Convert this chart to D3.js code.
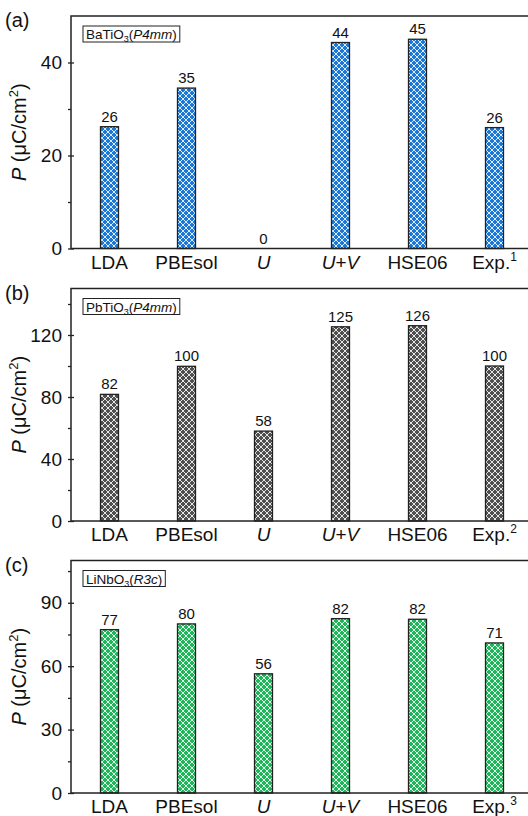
<!DOCTYPE html>
<html>
<head>
<meta charset="utf-8">
<script src="https://cdn.jsdelivr.net/npm/d3@7"></script>
<style>
  html, body { margin: 0; padding: 0; background: #fff; }
  svg { display: block; font-family: Arial, "Liberation Sans", sans-serif; }
</style>
</head>
<body>
<svg id="chart" width="528" height="816"></svg>
<script>
// ---- data ----
const categories = ["LDA", "PBEsol", "U", "U+V", "HSE06", "Exp."];
const expRefs = ["1", "2", "3"];
const panelLetters = ["(a)", "(b)", "(c)"];
const materials = ["BaTiO", "PbTiO", "LiNbO"];
const spaceGroups = ["P4mm", "P4mm", "R3c"];
const valuesBaTiO3 = [26.2, 34.5, 0, 44.3, 45.0, 26.0];
const valuesPbTiO3 = [81.7, 99.8, 58.0, 125.3, 126.0, 100.0];
const valuesLiNbO3 = [77.3, 80.0, 56.4, 82.5, 82.2, 71.0];
const labelsBaTiO3 = ["26", "35", "0", "44", "45", "26"];
const labelsPbTiO3 = ["82", "100", "58", "125", "126", "100"];
const labelsLiNbO3 = ["77", "80", "56", "82", "82", "71"];
const yMax = [50, 150, 110];
const yMajorTicks = [[0, 20, 40], [0, 40, 80, 120], [0, 30, 60, 90]];
const yMinorTicks = [[10, 30, 50], [20, 60, 100, 140], [15, 45, 75, 105]];
const colors = ["#1b78d6", "#4f4f4f", "#1fb55a"];

const panelValues = [valuesBaTiO3, valuesPbTiO3, valuesLiNbO3];
const panelLabels = [labelsBaTiO3, labelsPbTiO3, labelsLiNbO3];

// ---- layout ----
const svg = d3.select("#chart");
const left = 71, right = 533;
const tops = [16, 288.5, 560.5];
const ph = 232.5;
const barW = 18;

const x = d3.scalePoint().domain(categories).range([left, right]).padding(0.5);

const defs = svg.append("defs");
colors.forEach((c, i) => {
  const p = defs.append("pattern")
    .attr("id", "hatch" + i)
    .attr("patternUnits", "userSpaceOnUse")
    .attr("width", 6).attr("height", 6);
  p.append("rect").attr("width", 6).attr("height", 6).attr("fill", c);
  p.append("path")
    .attr("d", "M0,0L6,6M6,0L0,6M-1,5L1,7M5,-1L7,1M-1,1L1,-1M5,7L7,5")
    .attr("stroke", "#ffffff").attr("stroke-opacity", 0.85)
    .attr("stroke-width", 1).attr("fill", "none");
});

panelValues.forEach((vals, i) => {
  const top = tops[i];
  const bottom = top + ph;
  const y = d3.scaleLinear().domain([0, yMax[i]]).range([bottom, top]);
  const g = svg.append("g");

  // bars
  g.selectAll("rect.bar").data(vals).join("rect")
    .attr("class", "bar")
    .attr("x", (d, j) => x(categories[j]) - barW / 2)
    .attr("y", d => y(d))
    .attr("width", barW)
    .attr("height", d => y(0) - y(d))
    .attr("fill", `url(#hatch${i})`)
    .attr("stroke", d => d > 0 ? "#222" : "none")
    .attr("stroke-width", 1.3);

  // value labels
  g.selectAll("text.val").data(vals).join("text")
    .attr("class", "val")
    .attr("x", (d, j) => x(categories[j]))
    .attr("y", d => y(d) - 5)
    .attr("text-anchor", "middle")
    .attr("font-size", 15)
    .attr("fill", "#111")
    .text((d, j) => panelLabels[i][j]);

  // frame
  g.append("rect")
    .attr("x", left).attr("y", top)
    .attr("width", right - left).attr("height", ph)
    .attr("fill", "none").attr("stroke", "#222").attr("stroke-width", 1.5);

  // y axis
  const yAxis = d3.axisLeft(y).tickValues(yMajorTicks[i]).tickSize(3).tickPadding(6).tickSizeOuter(0);
  const ya = g.append("g").attr("transform", `translate(${left},0)`).call(yAxis);
  ya.select(".domain").remove();
  ya.selectAll(".tick line").attr("x2", -3).attr("x1", 3).attr("stroke", "#222").attr("stroke-width", 1.3);
  ya.selectAll(".tick text").attr("font-size", 19).attr("fill", "#111")
    .attr("font-family", "Arial, 'Liberation Sans', sans-serif");

  const yMinor = d3.axisLeft(y).tickValues(yMinorTicks[i].filter(v => v < yMax[i])).tickSize(3).tickFormat("");
  const ym = g.append("g").attr("transform", `translate(${left},0)`).call(yMinor);
  ym.select(".domain").remove();
  ym.selectAll(".tick line").attr("stroke", "#222").attr("stroke-width", 1.3);

  // x labels
  const xl = g.selectAll("text.xl").data(categories).join("text")
    .attr("class", "xl")
    .attr("x", d => x(d))
    .attr("y", bottom + 20)
    .attr("text-anchor", "middle")
    .attr("font-size", 19)
    .attr("fill", "#111");
  xl.each(function(d) {
    const t = d3.select(this);
    if (d === "U") {
      t.append("tspan").attr("font-style", "italic").text("U");
    } else if (d === "U+V") {
      t.append("tspan").attr("font-style", "italic").text("U");
      t.append("tspan").text("+");
      t.append("tspan").attr("font-style", "italic").text("V");
    } else if (d === "Exp.") {
      t.append("tspan").text("Exp.");
      t.append("tspan").attr("font-size", 12).attr("dy", -8).text(expRefs[i]);
    } else {
      t.text(d);
    }
  });

  // panel letter
  g.append("text").attr("x", 5).attr("y", top + 11).attr("font-size", 20).attr("fill", "#111")
    .text(panelLetters[i]);

  // y title
  const yt = g.append("text")
    .attr("transform", `translate(26,${(top + bottom) / 2}) rotate(-90)`)
    .attr("text-anchor", "middle")
    .attr("font-size", 20)
    .attr("fill", "#111");
  yt.append("tspan").attr("font-style", "italic").text("P");
  yt.append("tspan").text(" (μC/cm");
  yt.append("tspan").attr("font-size", 13).attr("dy", -8).text("2");
  yt.append("tspan").attr("dy", 8).text(")");

  // material box
  const mt = g.append("text")
    .attr("x", 86).attr("y", top + 23)
    .attr("font-size", 13.5)
    .attr("fill", "#111");
  mt.append("tspan").text(materials[i]);
  mt.append("tspan").attr("font-size", 9).attr("dy", 3).text("3");
  mt.append("tspan").attr("dy", -3).text("(");
  mt.append("tspan").attr("font-style", "italic").text(spaceGroups[i]);
  mt.append("tspan").text(")");
  const bb = mt.node().getBBox();
  g.insert("rect", () => mt.node())
    .attr("x", bb.x - 3).attr("y", top + 10)
    .attr("width", bb.width + 6).attr("height", 16)
    .attr("fill", "#fff").attr("stroke", "#222").attr("stroke-width", 1);
});
</script>
</body>
</html>
